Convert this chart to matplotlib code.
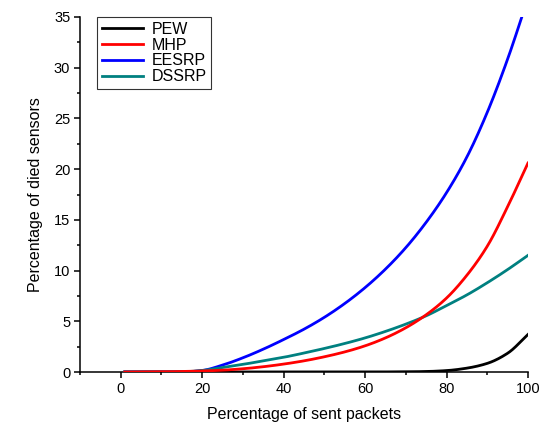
import matplotlib
matplotlib.use("Agg")
import matplotlib.pyplot as plt
from matplotlib.ticker import MultipleLocator
import numpy as np

plt.rcParams['font.family'] = ['Liberation Sans', 'DejaVu Sans']

x_pts = [1, 10, 15, 20, 25, 30, 35, 40, 45, 50, 55, 60, 65, 70, 75, 80, 85, 90, 95, 100]
pew   = [0, 0, 0, 0, 0, 0, 0, 0, 0, 0, 0, 0.0, 0.01, 0.02, 0.05, 0.14, 0.38, 0.85, 1.85, 3.7]
mhp   = [0, 0.02, 0.05, 0.1, 0.18, 0.32, 0.52, 0.78, 1.1, 1.5, 1.98, 2.58, 3.36, 4.36, 5.64, 7.29, 9.54, 12.4, 16.3, 20.6]
eesrp = [0, 0, 0, 0.15, 0.68, 1.4, 2.25, 3.2, 4.22, 5.39, 6.75, 8.32, 10.14, 12.26, 14.76, 17.68, 21.2, 25.6, 30.85, 36.85]
dssrp = [0, 0, 0.02, 0.15, 0.45, 0.75, 1.1, 1.45, 1.87, 2.32, 2.81, 3.36, 4.0, 4.72, 5.54, 6.55, 7.6, 8.8, 10.1, 11.5]

series = [("PEW", pew, "#000000", 2), ("MHP", mhp, "#FF0000", 5),
          ("EESRP", eesrp, "#0000FF", 3), ("DSSRP", dssrp, "#008080", 4)]


def pchip(x, y, xn):
    """Monotone cubic (Fritsch-Carlson) curve through the data, for smooth drawing."""
    x = np.asarray(x, float); y = np.asarray(y, float)
    h = np.diff(x); d = np.diff(y) / h
    m = np.zeros_like(y)
    for k in range(1, len(x) - 1):
        if d[k - 1] * d[k] > 0:
            w1 = 2 * h[k] + h[k - 1]; w2 = h[k] + 2 * h[k - 1]
            m[k] = (w1 + w2) / (w1 / d[k - 1] + w2 / d[k])
    m[0] = d[0]; m[-1] = d[-1]
    idx = np.clip(np.searchsorted(x, xn) - 1, 0, len(x) - 2)
    t = (xn - x[idx]) / h[idx]
    h00 = 2 * t**3 - 3 * t**2 + 1; h10 = t**3 - 2 * t**2 + t
    h01 = -2 * t**3 + 3 * t**2; h11 = t**3 - t**2
    return h00 * y[idx] + h10 * h[idx] * m[idx] + h01 * y[idx + 1] + h11 * h[idx] * m[idx + 1]


fig = plt.figure(figsize=(5.46, 4.25), dpi=100)
ax = fig.add_axes([0.1465, 0.1247, 0.8205, 0.8353])

xs = np.linspace(x_pts[0], x_pts[-1], 600)
for name, vals, col, z in series:
    ax.plot(xs, pchip(x_pts, vals, xs), color=col, lw=2.0, label=name, zorder=z)

ax.set_xlim(-10, 100)
ax.set_ylim(0, 35)
ax.set_xticks([0, 20, 40, 60, 80, 100])
ax.xaxis.set_minor_locator(MultipleLocator(10))
ax.yaxis.set_major_locator(MultipleLocator(5))
ax.yaxis.set_minor_locator(MultipleLocator(2.5))

for s in ['top', 'right']:
    ax.spines[s].set_visible(False)
for s in ['left', 'bottom']:
    ax.spines[s].set_linewidth(1.1)

ax.tick_params(which='major', direction='out', length=4, width=1.1, labelsize=10.5, pad=3)
ax.tick_params(which='minor', direction='out', length=2.4, width=1.1)

ax.set_xlabel("Percentage of sent packets", fontsize=11.5, labelpad=8)
ax.set_ylabel("Percentage of died sensors", fontsize=11.5, labelpad=8)

handles, labels = ax.get_legend_handles_labels()
leg = ax.legend(handles, labels, loc='upper left', bbox_to_anchor=(0.038, 1.0), fontsize=11.5,
                frameon=True, fancybox=False, borderpad=0.3, labelspacing=0.05,
                handlelength=2.6, handletextpad=0.5, borderaxespad=0)
leg.get_frame().set_edgecolor('black')
leg.get_frame().set_linewidth(0.8)
leg.set_zorder(10)

fig.savefig("out.png", dpi=100)
